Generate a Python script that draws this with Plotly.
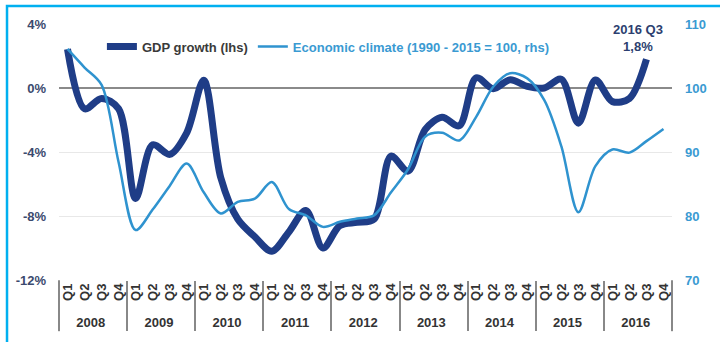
import plotly.graph_objects as go

years = ["2008", "2009", "2010", "2011", "2012", "2013", "2014", "2015", "2016"]
quarters = ["Q1", "Q2", "Q3", "Q4"]

gdp_growth = [2.43, -1.3, -0.65, -1.3,
              -6.9, -3.55, -4.15, -2.8,
              0.48, -5.6, -8.2, -9.3,
              -10.2, -9.0, -7.65, -10.0,
              -8.6, -8.4, -8.2, -4.26,
              -5.2, -2.6, -1.83, -2.36,
              0.64, -0.04, 0.52, 0.1,
              0.0, 0.55, -2.2, 0.5,
              -0.85, -0.65, 1.8]

econ_climate = [106.1, 103.2, 100.5, 88.4,
                77.8, 81.0, 84.7, 88.2,
                83.7, 80.4, 82.2, 82.7,
                85.3, 81.1, 80.1, 78.3,
                79.1, 79.6, 80.1, 83.7,
                87.3, 92.4, 93.0, 91.8,
                95.5, 100.2, 102.3, 101.5,
                98.1, 90.9, 80.6, 87.8,
                90.4, 89.9, 91.7, 93.6]

left_ticks = [4, 0, -4, -8, -12]
left_labels = ["4%", "0%", "-4%", "-8%", "-12%"]
right_ticks = [110, 100, 90, 80, 70]

yr = [y for y in years for q in quarters]
qt = [q for y in years for q in quarters]

NAVY = "#1f3d87"
LIGHT = "#2f93cf"
FONT = "Liberation Sans"

fig = go.Figure()
fig.add_trace(go.Scatter(
    x=[yr[:len(econ_climate)], qt[:len(econ_climate)]], y=econ_climate,
    name="<b><span style='color:#3a9ad2'>Economic climate (1990 - 2015 = 100, rhs)</span></b>",
    mode="lines", line=dict(color=LIGHT, width=2.5, shape="spline", smoothing=0.9),
    yaxis="y2"))
fig.add_trace(go.Scatter(
    x=[yr[:len(gdp_growth)], qt[:len(gdp_growth)]], y=gdp_growth,
    name="<b><span style='color:#3a3a3a'>GDP growth (lhs)</span></b>",
    mode="lines", line=dict(color=NAVY, width=7, shape="spline", smoothing=0.9)))

n_cat = len(yr)
edge_dividers = [dict(type="line", xref="paper", yref="paper", x0=xe, x1=xe,
                      y0=0, y1=-0.2, line=dict(color="#888888", width=1.5))
                 for xe in (0, 1)]

fig.update_layout(
    width=720, height=342,
    margin=dict(l=59, r=48, t=24, b=59),
    paper_bgcolor="white", plot_bgcolor="white",
    font=dict(family=FONT, size=13, color="#333333"),
    showlegend=True,
    legend=dict(orientation="h", x=0.07, y=0.912, xanchor="left", yanchor="middle",
                traceorder="reversed", itemwidth=30,
                font=dict(family=FONT, size=13), bgcolor="rgba(0,0,0,0)"),
    xaxis=dict(type="multicategory", range=[-0.5, n_cat - 0.5],
               showgrid=False, showline=False, ticks="",
               tickangle=-90, showdividers=True, dividercolor="#888888", dividerwidth=1.5,
               tickfont=dict(family=FONT, size=13, color="#333333", weight="bold")),
    yaxis=dict(range=[-12, 4], tickvals=left_ticks, ticktext=left_labels,
               showgrid=True, gridcolor="#e8e8e8", gridwidth=1,
               zeroline=True, zerolinecolor="#8a8a8a", zerolinewidth=1.5,
               showline=False, ticks="", ticklabelstandoff=12,
               tickfont=dict(family=FONT, size=13, color="#3b4a6e", weight="bold")),
    yaxis2=dict(range=[70, 110], tickvals=right_ticks, overlaying="y", side="right",
                showgrid=False, zeroline=False, showline=False, ticks="",
                ticklabelstandoff=12,
                tickfont=dict(family=FONT, size=13, color="#3a9ad2", weight="bold")),
    annotations=[dict(x=("2016", "Q3"), y=1.8, xref="x", yref="y",
                      text="<b>2016 Q3<br>1,8%</b>", showarrow=False,
                      yanchor="bottom", yshift=3, xshift=-8,
                      font=dict(family=FONT, size=13, color="#2c3f70"))],
    shapes=[dict(type="rect", xref="paper", yref="paper",
                 x0=-0.0848, x1=1.09, y0=-0.25, y1=1.0707,
                 line=dict(color="#00b0f0", width=2.5), fillcolor="rgba(0,0,0,0)",
                 layer="below")] + edge_dividers,
)

fig.write_html("out.html")
